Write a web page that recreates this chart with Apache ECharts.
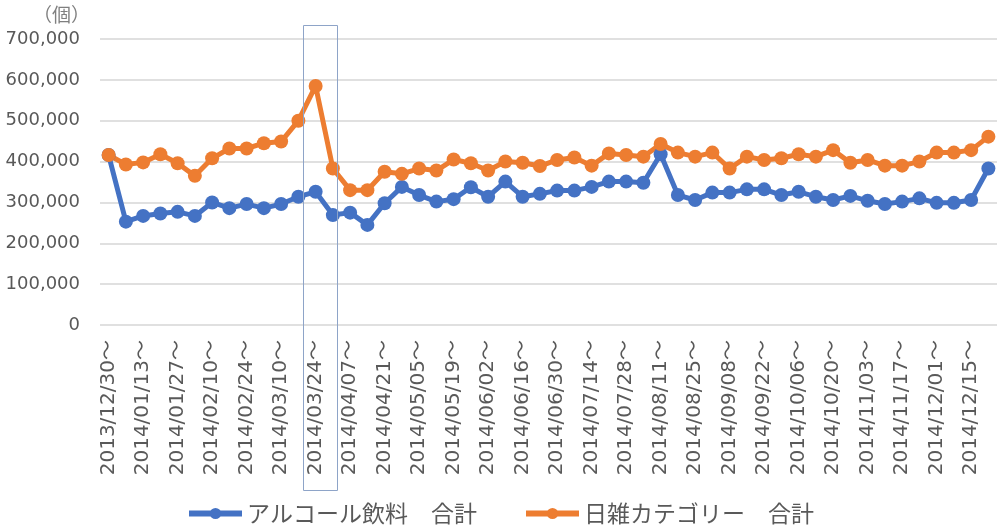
<!DOCTYPE html>
<html>
<head>
<meta charset="utf-8">
<script src="https://cdn.jsdelivr.net/npm/echarts@6/dist/echarts.min.js"></script>
<style>html,body{margin:0;padding:0;background:#fff}#c{width:1000px;height:530px}</style>
</head>
<body>
<div id="c"></div>
<script>
const categories = ['2013/12/30','2014/01/06','2014/01/13','2014/01/20','2014/01/27','2014/02/03','2014/02/10','2014/02/17','2014/02/24','2014/03/03','2014/03/10','2014/03/17','2014/03/24','2014/03/31','2014/04/07','2014/04/14','2014/04/21','2014/04/28','2014/05/05','2014/05/12','2014/05/19','2014/05/26','2014/06/02','2014/06/09','2014/06/16','2014/06/23','2014/06/30','2014/07/07','2014/07/14','2014/07/21','2014/07/28','2014/08/04','2014/08/11','2014/08/18','2014/08/25','2014/09/01','2014/09/08','2014/09/15','2014/09/22','2014/09/29','2014/10/06','2014/10/13','2014/10/20','2014/10/27','2014/11/03','2014/11/10','2014/11/17','2014/11/24','2014/12/01','2014/12/08','2014/12/15','2014/12/22'];
const alcohol = [416000,253000,267000,273000,277000,267000,300000,286000,296000,286000,296000,314000,326000,269000,275000,245000,298000,338000,318000,302000,308000,337000,314000,351000,314000,321000,329000,329000,338000,351000,351000,348000,418000,318000,306000,324000,324000,332000,332000,318000,326000,314000,306000,316000,304000,296000,302000,310000,299000,299000,306000,383000];
const daily = [416000,393000,398000,418000,396000,365000,408000,432000,432000,445000,449000,500000,585000,383000,330000,330000,375000,370000,383000,378000,405000,396000,378000,400000,397000,389000,404000,410000,390000,420000,416000,412000,443000,422000,412000,422000,383000,412000,404000,408000,418000,412000,428000,397000,404000,390000,390000,400000,422000,422000,428000,461000];
const seriesNames = ['アルコール飲料　合計','日雑カテゴリー　合計'];
const yTicks = [0,100000,200000,300000,400000,500000,600000,700000];
const highlightIndex = 12;

const FONT = "'DejaVu Sans','Noto Sans CJK JP',sans-serif";
const JP = "'Noto Sans CJK JP',sans-serif";
const chart = echarts.init(document.getElementById('c'));
const option = {
  animation: false,
  textStyle: {fontFamily: FONT},
  title: {text: '（個）', left: 28, top: 0, textStyle: {fontSize: 19, fontWeight: 'normal', color: '#7f7f7f', fontFamily: JP}},
  grid: {left: 100, right: 3, top: 39, bottom: 205},
  legend: {
    bottom: 0, left: 'center', itemWidth: 53, itemHeight: 14, itemGap: 46,
    lineStyle: {width: 6},
    textStyle: {fontSize: 23, color: '#595959', fontFamily: JP},
    data: seriesNames
  },
  xAxis: {
    type: 'category', data: categories, boundaryGap: true,
    axisLine: {show: false}, axisTick: {show: false},
    axisLabel: {interval: 1, rotate: 90, margin: 15, fontSize: 20, color: '#595959', formatter: v => v + '～'}
  },
  yAxis: {
    type: 'value', min: yTicks[0], max: yTicks[yTicks.length-1], interval: 100000,
    axisLine: {show: false}, axisTick: {show: false},
    axisLabel: {fontSize: 18, color: '#595959', margin: 20, formatter: v => v.toLocaleString('en-US')},
    splitLine: {lineStyle: {color: '#d6d6d6', width: 1.5}}
  },
  series: [
    {name: seriesNames[0], type: 'line', data: alcohol, symbol: 'circle', symbolSize: 14, showAllSymbol: true,
     lineStyle: {width: 5, color: '#4472C4'}, itemStyle: {color: '#4472C4'}},
    {name: seriesNames[1], type: 'line', data: daily, symbol: 'circle', symbolSize: 14, showAllSymbol: true,
     lineStyle: {width: 5, color: '#ED7D31'}, itemStyle: {color: '#ED7D31'}}
  ]
};
chart.setOption(option);
const cx = chart.convertToPixel({xAxisIndex: 0}, highlightIndex);
chart.setOption({
  graphic: [{type: 'rect', z: 100, shape: {x: Math.round(cx) - 12.5, y: 25.5, width: 34, height: 465},
    style: {fill: 'none', stroke: '#8EA4C8', lineWidth: 1}}]
});
</script>
</body>
</html>
